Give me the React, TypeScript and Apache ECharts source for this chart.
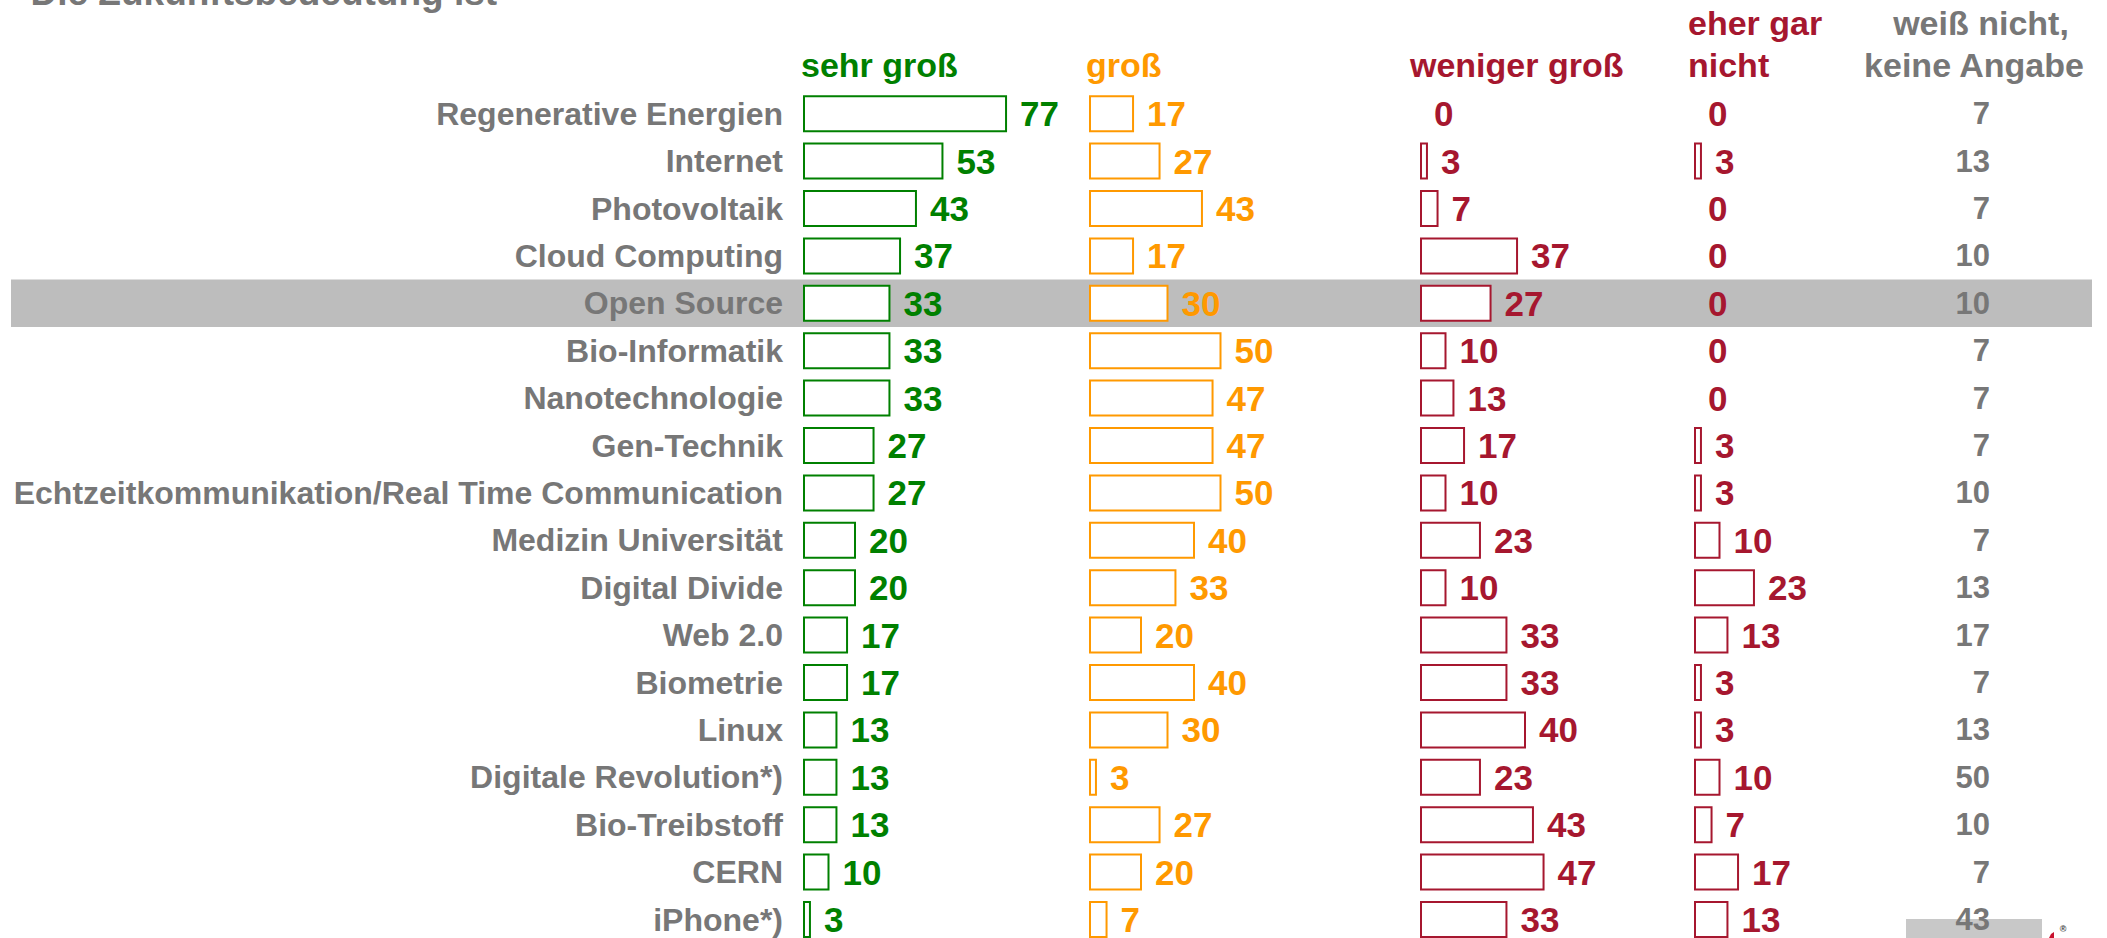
import React, { useEffect, useRef } from "react";
import * as echarts from "echarts";

const categories = [
  "Regenerative Energien",
  "Internet",
  "Photovoltaik",
  "Cloud Computing",
  "Open Source",
  "Bio-Informatik",
  "Nanotechnologie",
  "Gen-Technik",
  "Echtzeitkommunikation/Real Time Communication",
  "Medizin Universität",
  "Digital Divide",
  "Web 2.0",
  "Biometrie",
  "Linux",
  "Digitale Revolution*)",
  "Bio-Treibstoff",
  "CERN",
  "iPhone*)",
];
const sehrGross = [77, 53, 43, 37, 33, 33, 33, 27, 27, 20, 20, 17, 17, 13, 13, 13, 10, 3];
const gross = [17, 27, 43, 17, 30, 50, 47, 47, 50, 40, 33, 20, 40, 30, 3, 27, 20, 7];
const wenigerGross = [0, 3, 7, 37, 27, 10, 13, 17, 10, 23, 10, 33, 33, 40, 23, 43, 47, 33];
const eherGarNicht = [0, 3, 0, 0, 0, 0, 0, 3, 3, 10, 23, 13, 3, 3, 10, 7, 17, 13];
const weissNicht = [7, 13, 7, 10, 10, 7, 7, 7, 10, 7, 13, 17, 7, 13, 50, 10, 7, 43];
const highlightRow = "Open Source";

const titleText = "Die Zukunftsbedeutung ist";
const headerSehrGross = "sehr groß";
const headerGross = "groß";
const headerWeniger = "weniger groß";
const headerEherGar = ["eher gar", "nicht"];
const headerWeiss = ["weiß nicht,", "keine Angabe"];

const FONT = '"Liberation Sans", Arial, Helvetica, sans-serif';
const GREEN = "#008000";
const ORANGE = "#ff9900";
const RED = "#a6172f";
const GRAY = "#777777";

const GRID_TOP = 90;
const GRID_H = 853.2;
const SCALE_W = 265; // width for 0..100

export default function App() {
  const ref = useRef<HTMLDivElement>(null);

  useEffect(() => {
    if (!ref.current) return;
    const chart = echarts.init(ref.current, undefined, { renderer: "svg" });

    const gridLefts = [11, 803, 1089, 1420, 1694, 1991];
    const grids = gridLefts.map((left, i) => ({
      left,
      top: GRID_TOP,
      height: GRID_H,
      width: i === 0 ? 2081 : i === 5 ? 60 : SCALE_W,
      containLabel: false,
    }));

    const xAxes = gridLefts.map((_, i) => ({
      gridIndex: i,
      type: "value",
      min: 0,
      max: i === 0 || i === 5 ? 1 : 100,
      show: false,
    }));

    const yAxes = gridLefts.map((_, i) => ({
      gridIndex: i,
      type: "category",
      data: categories,
      inverse: true,
      show: i === 1,
      z: 5,
      axisLine: { show: false },
      axisTick: { show: false },
      splitLine: { show: false },
      axisLabel: {
        show: i === 1,
        margin: 20,
        color: GRAY,
        fontSize: 32,
        fontWeight: "bold",
        fontFamily: FONT,
      },
    }));

    const barSeries = (idx: number, values: number[], color: string) => ({
      type: "bar",
      xAxisIndex: idx,
      yAxisIndex: idx,
      barWidth: 37,
      z: 2,
      data: values.map((v) =>
        v === 0
          ? { value: v, itemStyle: { borderColor: "rgba(0,0,0,0)" } }
          : { value: v }
      ),
      itemStyle: { color: "#ffffff", borderColor: color, borderWidth: 2 },
      label: {
        show: true,
        position: "right",
        distance: 13,
        color,
        fontSize: 35,
        fontWeight: "bold",
        fontFamily: FONT,
      },
    });

    const txt = (
      text: string,
      x: number,
      y: number,
      size: number,
      fill: string,
      align: string = "left"
    ) => ({
      type: "text",
      x,
      y,
      silent: true,
      style: {
        text,
        font: `bold ${size}px ${FONT}`,
        fill,
        align,
        verticalAlign: "middle",
        textAlign: align,
        textVerticalAlign: "middle",
      },
    });

    chart.setOption({
      animation: false,
      backgroundColor: "#ffffff",
      grid: grids,
      xAxis: xAxes,
      yAxis: yAxes,
      series: [
        {
          type: "bar",
          xAxisIndex: 0,
          yAxisIndex: 0,
          barWidth: "100%",
          silent: true,
          z: 1,
          data: categories.map((c) => (c === highlightRow ? 1 : 0)),
          itemStyle: { color: "#bdbdbd" },
        },
        barSeries(1, sehrGross, GREEN),
        barSeries(2, gross, ORANGE),
        barSeries(3, wenigerGross, RED),
        barSeries(4, eherGarNicht, RED),
        {
          type: "scatter",
          xAxisIndex: 5,
          yAxisIndex: 5,
          symbol: "circle",
          symbolSize: 2,
          z: 3,
          silent: true,
          itemStyle: { color: "rgba(0,0,0,0)", opacity: 1 },
          data: weissNicht.map((v, i) => [0, categories[i], v]),
          encode: { x: 0, y: 1 },
          label: {
            show: true,
            position: "left",
            distance: 0,
            formatter: (p: any) => String(p.value[2]),
            color: GRAY,
            fontSize: 31,
            fontWeight: "bold",
            fontFamily: FONT,
          },
        },
      ],
      graphic: [
        txt(titleText, 30.5, -7.3, 37, GRAY),
        txt(headerSehrGross, 801, 65, 34, GREEN),
        txt(headerGross, 1086, 65, 34, ORANGE),
        txt(headerWeniger, 1410, 65, 34, RED),
        txt(headerEherGar[0], 1688, 23, 34, RED),
        txt(headerEherGar[1], 1688, 65, 34, RED),
        txt(headerWeiss[0], 1981, 23, 34, GRAY, "center"),
        txt(headerWeiss[1], 1974, 65, 34, GRAY, "center"),
        {
          type: "rect",
          z: 0,
          silent: true,
          shape: { x: 1906, y: 919, width: 136, height: 25 },
          style: { fill: "#c8c8c8" },
        },
        {
          type: "polygon",
          silent: true,
          shape: { points: [[2049, 938], [2051, 934], [2054, 932], [2054, 938]] },
          style: { fill: "#c8102e" },
        },
        txt("®", 2063, 929, 9, "#444444", "center"),
      ],
    });

    return () => chart.dispose();
  }, []);

  return (
    <div
      ref={ref}
      style={{ position: "fixed", left: 0, top: 0, width: 2107, height: 960 }}
    />
  );
}
